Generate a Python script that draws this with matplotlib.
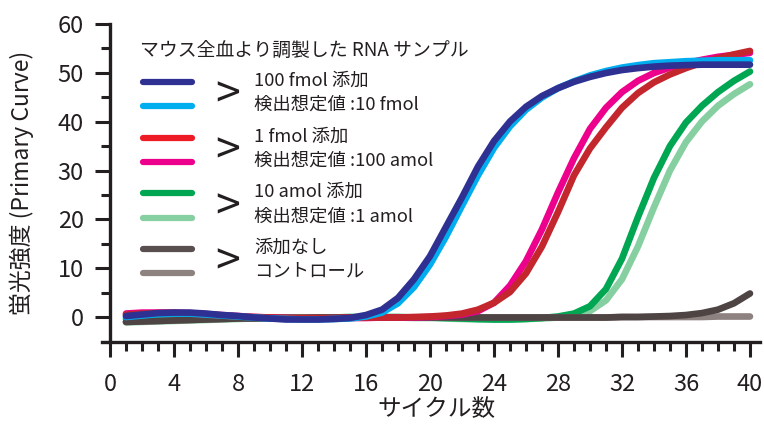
import matplotlib
matplotlib.use("Agg")
import matplotlib.pyplot as plt
from matplotlib.lines import Line2D
from matplotlib.ticker import MultipleLocator

plt.rcParams['font.family'] = ['Noto Sans CJK JP', 'DejaVu Sans']

# サイクル数
cycles = list(range(1, 41))

# 蛍光強度
fmol100_a = [0.3, 0.6, 0.9, 1.0, 1.0, 0.8, 0.5, 0.3, 0.0, -0.2,
             -0.4, -0.4, -0.4, -0.3, -0.1, 0.5, 1.6, 4.0, 7.8, 12.5,
             18.5, 24.5, 30.8, 36.0, 40.0, 43.0, 45.2, 46.8, 48.1, 49.1,
             49.9, 50.5, 50.9, 51.2, 51.4, 51.5, 51.6, 51.6, 51.6, 51.6]
fmol100_b = [0.1, 0.4, 0.7, 0.8, 0.8, 0.6, 0.4, 0.2, 0.0, -0.2,
             -0.3, -0.4, -0.4, -0.3, -0.2, 0.2, 1.0, 2.9, 6.2, 10.8,
             16.5, 22.8, 29.0, 34.6, 39.0, 42.4, 44.9, 46.8, 48.2, 49.4,
             50.3, 51.0, 51.5, 51.9, 52.1, 52.3, 52.4, 52.5, 52.5, 52.5]
fmol1_a = [0.6, 0.8, 0.9, 0.9, 0.8, 0.6, 0.4, 0.2, 0.1, 0.0,
           -0.1, -0.1, -0.1, -0.1, 0.0, 0.0, 0.0, 0.0, 0.1, 0.2,
           0.4, 0.8, 1.6, 3.0, 5.2, 9.0, 14.5, 21.5, 29.0, 34.5,
           38.8, 42.8, 45.8, 48.0, 49.6, 50.9, 52.0, 52.9, 53.7, 54.4]
fmol1_b = [0.8, 1.0, 1.0, 1.0, 0.9, 0.7, 0.5, 0.3, 0.1, 0.0,
           -0.1, -0.2, -0.2, -0.2, -0.1, -0.1, 0.0, 0.0, 0.0, 0.1,
           0.3, 0.6, 1.3, 3.0, 6.5, 11.5, 18.0, 25.5, 32.5, 38.5,
           42.8, 46.0, 48.3, 49.9, 51.0, 51.9, 52.6, 53.2, 53.6, 54.0]
amol10_a = [-0.3, -0.2, -0.1, 0.0, 0.0, 0.0, 0.0, 0.0, 0.0, 0.0,
            0.0, 0.0, 0.0, 0.0, 0.1, 0.1, 0.1, 0.1, 0.0, 0.0,
            -0.1, -0.2, -0.3, -0.4, -0.4, -0.3, -0.1, 0.2, 0.8, 2.3,
            5.8, 12.0, 20.5, 28.5, 35.0, 39.8, 43.2, 46.0, 48.3, 50.2]
amol10_b = [-1.0, -0.9, -0.8, -0.7, -0.6, -0.5, -0.4, -0.3, -0.2, -0.2,
            -0.1, -0.1, 0.0, 0.0, 0.0, 0.0, 0.0, 0.0, -0.1, -0.1,
            -0.2, -0.3, -0.4, -0.4, -0.4, -0.3, -0.2, 0.0, 0.4, 1.3,
            3.5, 7.8, 14.5, 22.5, 30.0, 35.8, 40.0, 43.2, 45.6, 47.6]
none_a = [-0.9, -0.8, -0.7, -0.6, -0.5, -0.4, -0.3, -0.2, -0.2, -0.1,
          -0.1, -0.1, 0.0, 0.0, 0.0, 0.0, 0.0, 0.0, 0.0, 0.0,
          0.0, 0.0, 0.0, 0.0, 0.0, 0.0, 0.0, 0.0, 0.0, 0.0,
          0.0, 0.1, 0.1, 0.2, 0.3, 0.5, 0.9, 1.6, 2.9, 4.9]
control = [-0.9, -0.8, -0.7, -0.6, -0.5, -0.4, -0.3, -0.2, -0.1, -0.1,
           0.0, 0.0, 0.0, 0.0, 0.0, 0.0, 0.0, 0.0, 0.0, 0.0,
           0.0, 0.0, 0.0, 0.0, 0.0, 0.0, 0.0, 0.0, 0.0, 0.0,
           0.0, 0.1, 0.1, 0.1, 0.1, 0.1, 0.1, 0.2, 0.2, 0.2]

legend_title = "マウス全血より調製した RNA サンプル"
group_labels = [("100 fmol 添加", "検出想定値 :10 fmol"),
                ("1 fmol 添加", "検出想定値 :100 amol"),
                ("10 amol 添加", "検出想定値 :1 amol"),
                ("添加なし", "コントロール")]
legend_colors = [("#2E3192", "#00AEEF"), ("#ED1C24", "#EC008C"),
                 ("#00A651", "#86CFA0"), ("#5A4F4F", "#8E8280")]

# 描画順 (下から)
series = [(amol10_b, "#86CFA0"), (amol10_a, "#00A651"),
          (control, "#8E8280"), (none_a, "#4E4444"),
          (fmol1_b, "#EC008C"), (fmol1_a, "#C4262E"),
          (fmol100_b, "#00AEEF"), (fmol100_a, "#2E3192")]

fig = plt.figure(figsize=(7.64, 4.25), dpi=100)
ax = fig.add_axes([0.1335, 0.1953, 0.8607, 0.7494])

for vals, col in series:
    ax.plot(cycles, vals, color=col, lw=4.8, solid_capstyle='round',
            solid_joinstyle='round')

ax.set_xlim(-0.5, 40.6)
ax.set_ylim(-5, 60)
ax.spines['top'].set_visible(False)
ax.spines['right'].set_visible(False)
ax.spines['left'].set_position(('data', 0))
ax.spines['left'].set_bounds(-5, 60)
for s in ['left', 'bottom']:
    ax.spines[s].set_linewidth(2.4)
    ax.spines[s].set_color('#231F20')

ax.xaxis.set_major_locator(MultipleLocator(4))
ax.xaxis.set_minor_locator(MultipleLocator(1))
ax.yaxis.set_major_locator(MultipleLocator(10))
ax.yaxis.set_minor_locator(MultipleLocator(5))
ax.set_yticks(range(0, 61, 10))
ax.tick_params(axis='both', which='major', length=11, width=2.2,
               direction='out', labelsize=17, colors='#231F20')
ax.tick_params(axis='both', which='minor', length=6.5, width=2.2,
               direction='out', colors='#231F20')
ax.tick_params(axis='x', which='major', pad=11)
ax.tick_params(axis='y', which='major', pad=8)

ax.set_xlabel("サイクル数", fontsize=17, color='#231F20')
ax.xaxis.set_label_coords(0.509, -0.175)
ax.set_ylabel("蛍光強度 (Primary Curve)", fontsize=16.5, color='#231F20')
ax.yaxis.set_label_coords(-0.103, 0.5)

# 凡例
W, H = 764, 425
fig.text(140 / W, 1 - 50 / H, legend_title, fontsize=13.6, va='center',
         ha='left', color='#231F20')
line_y = [(82, 106), (138, 162), (193, 218), (249, 273)]
for (l1, l2), (c1, c2), (y1, y2) in zip(group_labels, legend_colors, line_y):
    for yy, cc in ((y1, c1), (y2, c2)):
        fig.add_artist(Line2D([143 / W, 192 / W], [1 - yy / H, 1 - yy / H],
                              transform=fig.transFigure, color=cc, lw=4.5,
                              solid_capstyle='round'))
    ym = (y1 + y2) / 2
    fig.text(228 / W, 1 - (ym + 2) / H, ">", fontsize=32, va='center',
             ha='center', color='#231F20')
    fig.text(254 / W, 1 - (y1 - 1) / H, l1, fontsize=13.2, va='center',
             ha='left', color='#231F20')
    fig.text(254 / W, 1 - (y2 - 1) / H, l2, fontsize=13.2, va='center',
             ha='left', color='#231F20')

fig.savefig("out.png", dpi=100)
